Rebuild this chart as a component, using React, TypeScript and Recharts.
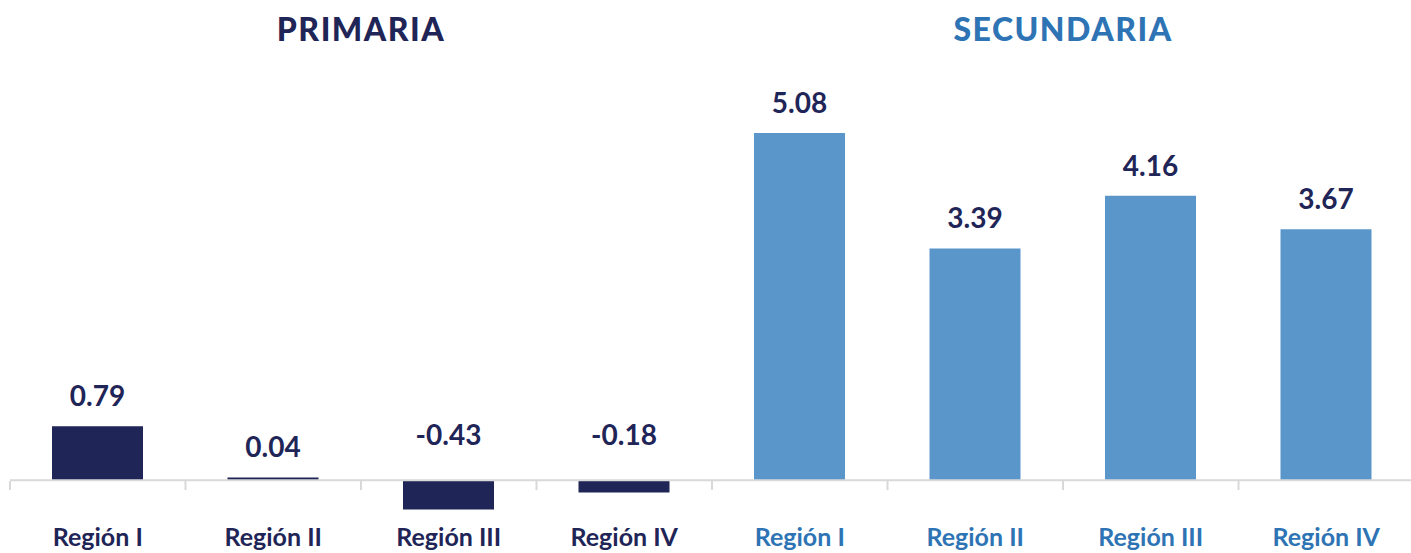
import { BarChart, Bar, XAxis, YAxis, Cell, LabelList, ReferenceLine } from 'recharts';

const categories = ['Región I', 'Región II', 'Región III', 'Región IV', 'Región I', 'Región II', 'Región III', 'Región IV'];
const groups = ['primaria', 'primaria', 'primaria', 'primaria', 'secundaria', 'secundaria', 'secundaria', 'secundaria'];
const values = [0.79, 0.04, -0.43, -0.18, 5.08, 3.39, 4.16, 3.67];
const titles = [
  { text: 'PRIMARIA', group: 'primaria' },
  { text: 'SECUNDARIA', group: 'secundaria' },
];

const NAVY = '#1f2557';
const BAR_BLUE = '#5b96cb';
const TEXT_BLUE = '#2e74b5';
const AXIS = '#d9d9d9';
const FONT = 'Lato, "Open Sans", sans-serif';

const W = 1414;
const H = 553;
const LEFT = 10;
const BAND = (W - LEFT) / categories.length;
const BASELINE = 481;

const data = categories.map((name, i) => ({ key: i, name, group: groups[i], value: values[i] }));

// category label plus the boundary tick marks hanging below the zero line
function CategoryTick(props: any) {
  const { x, index } = props;
  const color = groups[index] === 'primaria' ? NAVY : TEXT_BLUE;
  const left = x - BAND / 2;
  return (
    <g>
      <line x1={left} x2={left} y1={BASELINE} y2={BASELINE + 9} stroke={AXIS} strokeWidth={2} />
      {index === categories.length - 1 && (
        <line x1={left + BAND} x2={left + BAND} y1={BASELINE} y2={BASELINE + 9} stroke={AXIS} strokeWidth={2} />
      )}
      <text x={x} y={546} textAnchor="middle" fill={color} fontSize={25} fontWeight={700} fontFamily={FONT}>
        {categories[index]}
      </text>
    </g>
  );
}

function ValueLabel(props: any) {
  const { x, y, width, height, value } = props;
  const top = Math.min(y, y + height);
  const ly = value >= 0 ? top - 20 : top - 35;
  return (
    <text x={x + width / 2} y={ly} textAnchor="middle" fill={NAVY} fontSize={28} fontWeight={700} fontFamily={FONT}>
      {value.toFixed(2)}
    </text>
  );
}

export default function App() {
  return (
    <div style={{ position: 'absolute', left: 0, top: 0, width: 1411, height: H, overflow: 'hidden', background: '#fff' }}>
      {titles.map((t, i) => (
        <div
          key={t.text}
          style={{
            position: 'absolute',
            top: 9,
            left: LEFT + i * BAND * 4,
            width: BAND * 4,
            textAlign: 'center',
            fontFamily: FONT,
            fontWeight: 900,
            fontSize: 32,
            letterSpacing: 1.5,
            color: t.group === 'primaria' ? NAVY : TEXT_BLUE,
          }}
        >
          {t.text}
        </div>
      ))}
      <BarChart width={W} height={H} data={data} margin={{ top: 70, right: 0, bottom: 0, left: LEFT }} style={{ overflow: 'visible' }}>
        <XAxis dataKey="key" height={1} axisLine={false} tickLine={false} tick={CategoryTick} interval={0} />
        <YAxis hide domain={[-1.05, 6]} />
        <Bar dataKey="value" barSize={91} isAnimationActive={false}>
          {data.map((d) => (
            <Cell key={d.key} fill={d.group === 'primaria' ? NAVY : BAR_BLUE} />
          ))}
          <LabelList dataKey="value" content={<ValueLabel />} />
        </Bar>
        <ReferenceLine y={0} stroke={AXIS} strokeWidth={2} />
      </BarChart>
    </div>
  );
}
